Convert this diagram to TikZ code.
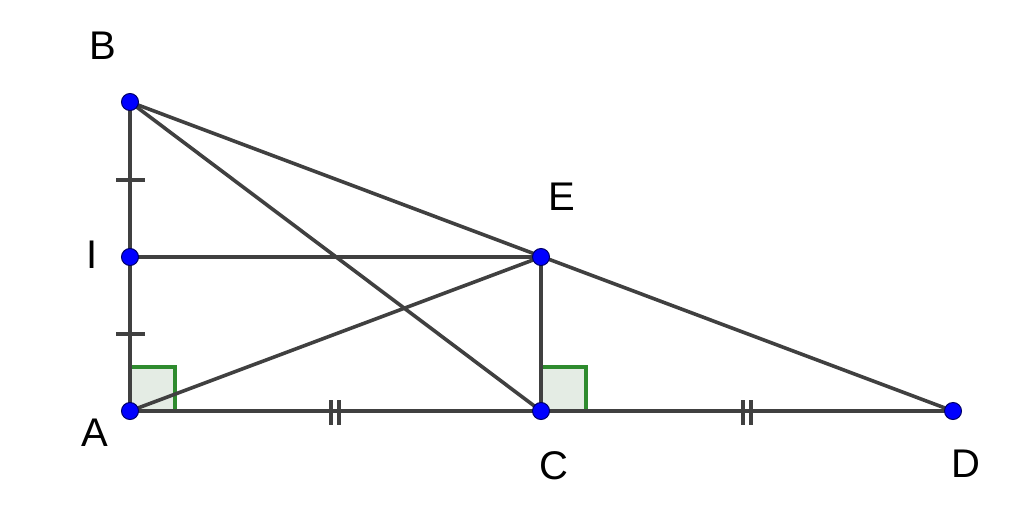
\documentclass[tikz,border=0pt]{standalone}
\usepackage{fontspec}
\setmainfont{Liberation Sans}
\usepackage{tikz}
\definecolor{segcol}{HTML}{404040}
\definecolor{anglecol}{HTML}{2E8B2E}
\definecolor{anglefill}{HTML}{E4ECE4}
\definecolor{dotcol}{HTML}{0000FF}
\tikzset{
    seg/.style={segcol, line width=3.6},
    tick/.style={segcol, line width=3.4},
    rightang/.style={draw=anglecol, fill=anglefill, line width=3.2},
    pt/.style={circle, fill=dotcol, draw=blue!40!black, line width=1, inner sep=0, minimum size=17},
    lab/.style={font=\fontsize{40}{48}\selectfont, text=black, inner sep=0}
}
\begin{document}
\begin{tikzpicture}[x=1pt, y=-1pt]
    \useasboundingbox (0,0) rectangle (1024,530);

    % points
    \coordinate (A) at (130,411);
    \coordinate (B) at (130,102);
    \coordinate (I) at (130,257);
    \coordinate (E) at (541,257);
    \coordinate (C) at (541,411);
    \coordinate (D) at (953,411);

    % right angles
    \draw [rightang] (A) rectangle ++(45,-44);
    \draw [rightang] (C) rectangle ++(45,-44);

    % body
    \draw [seg] (A) -- (B);
    \draw [seg] (A) -- (D);
    \draw [seg] (B) -- (D);
    \draw [seg] (B) -- (C);
    \draw [seg] (I) -- (E);
    \draw [seg] (A) -- (E);
    \draw [seg] (C) -- (E);

    % ticks
    \draw [tick] (116,180) -- (145,180);
    \draw [tick] (116,334) -- (145,334);
    \draw [tick] (331,400) -- (331,425);
        \draw [tick] (339,400) -- (339,425);
    \draw [tick] (743,400) -- (743,425);
        \draw [tick] (751,400) -- (751,425);

    % dots
    \foreach \p in {A,B,I,E,C,D}
        \node [pt] (dot\p) at (\p) {};

    % labels
    \node [lab] (labB) at (103,46) {B};
    \node [lab] (labI) at (92,255) {I};
    \node [lab] (labE) at (562,197) {E};
    \node [lab] (labA) at (95,433) {A};
    \node [lab] (labC) at (554,466) {C};
    \node [lab] (labD) at (966,464) {D};
\end{tikzpicture}
\end{document}
